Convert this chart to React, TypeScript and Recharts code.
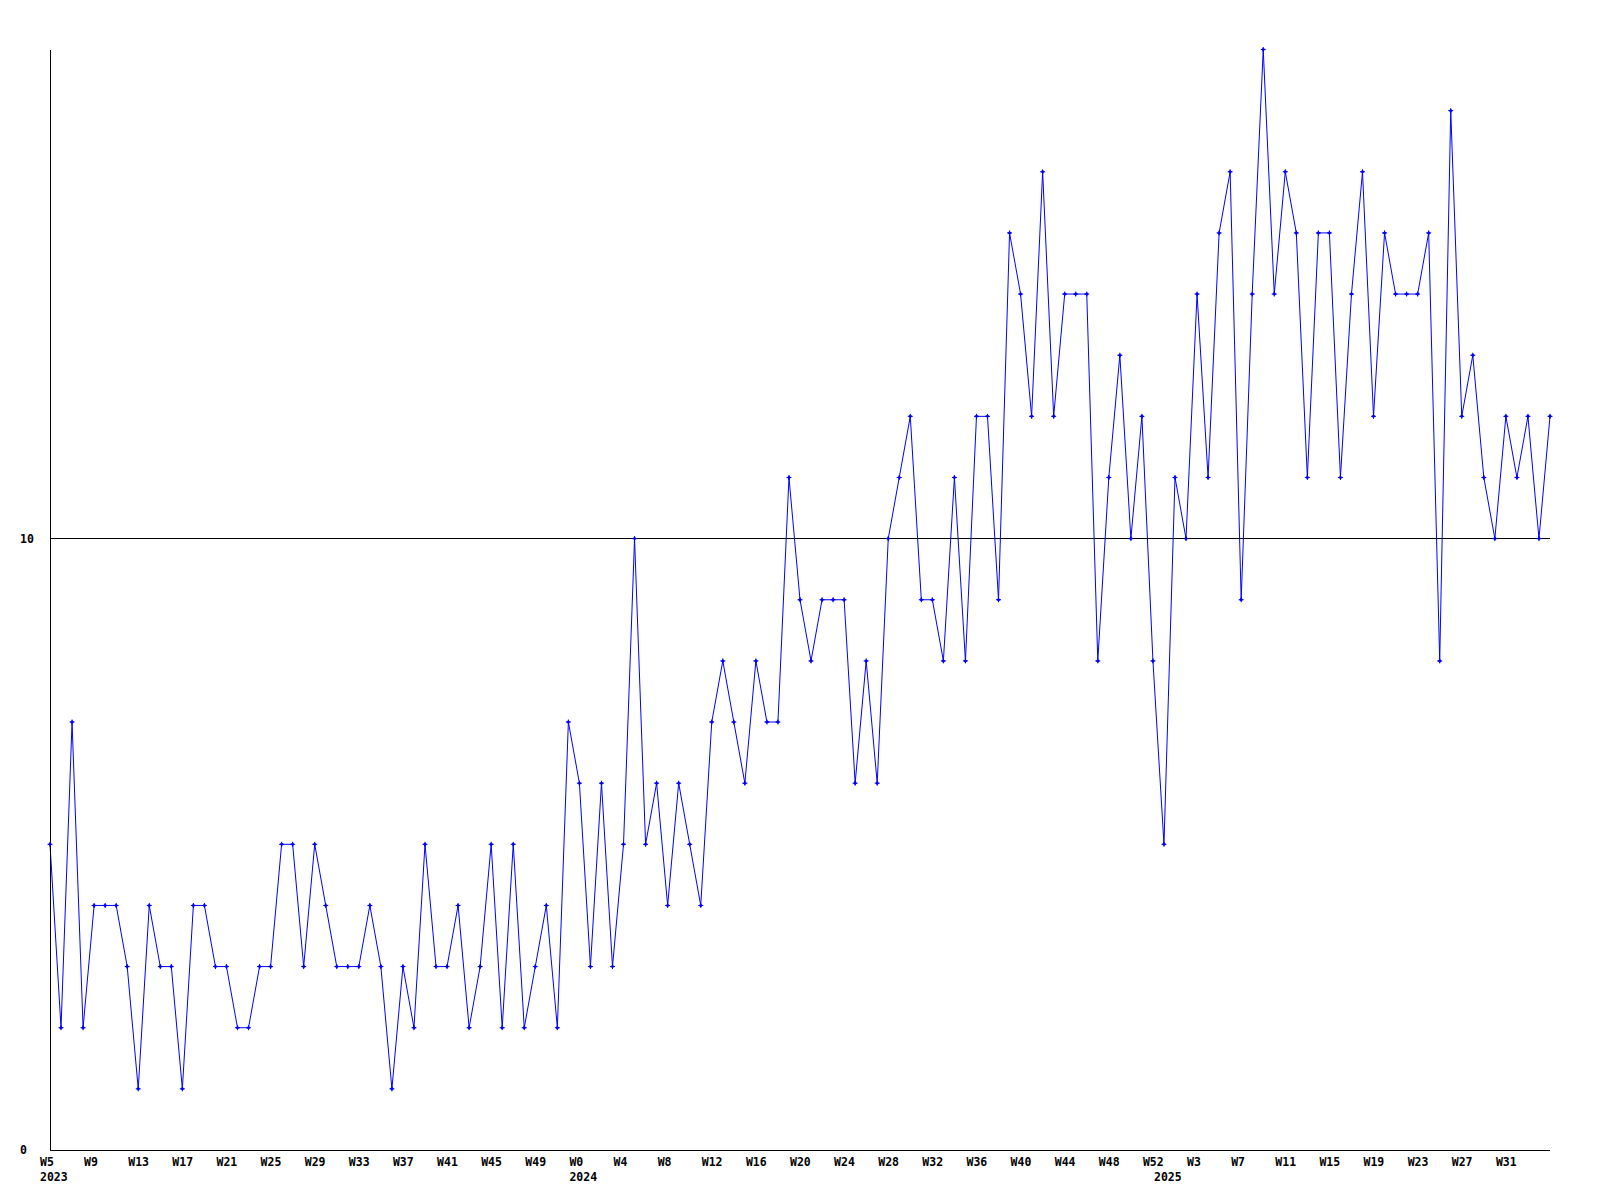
import React from "react";
import { LineChart, Line, XAxis, YAxis, ReferenceLine } from "recharts";

const weeks2023 = ["W5","W6","W7","W8","W9","W10","W11","W12","W13","W14","W15","W16","W17","W18","W19","W20","W21","W22","W23","W24","W25","W26","W27","W28","W29","W30","W31","W32","W33","W34","W35","W36","W37","W38","W39","W40","W41","W42","W43","W44","W45","W46","W47","W48","W49","W50","W51","W52"];
const weeks2024 = ["W0","W1","W2","W3","W4","W5","W6","W7","W8","W9","W10","W11","W12","W13","W14","W15","W16","W17","W18","W19","W20","W21","W22","W23","W24","W25","W26","W27","W28","W29","W30","W31","W32","W33","W34","W35","W36","W37","W38","W39","W40","W41","W42","W43","W44","W45","W46","W47","W48","W49","W50","W51","W52"];
const weeks2025 = ["W0","W1","W2","W3","W4","W5","W6","W7","W8","W9","W10","W11","W12","W13","W14","W15","W16","W17","W18","W19","W20","W21","W22","W23","W24","W25","W26","W27","W28","W29","W30","W31","W32","W33","W34","W35"];

const values2023 = [5,2,7,2,4,4,4,3,1,4, 3,3,1,4,4,3,3,2,2,3, 3,5,5,3,5,4,3,3,3,4, 3,1,3,2,5,3,3,4,2,3, 5,2,5,2,3,4,2,7];
const values2024 = [6,3, 6,3,5,10,5,6,4,6,5,4, 7,8,7,6,8,7,7,11,9,8, 9,9,9,6,8,6,10,11,12,9, 9,8,11,8,12,12,9,15,14,12, 16,12,14,14,14,8,11,13,10,12, 8];
const values2025 = [5,11,10,14,11,15,16,9,14, 18,14,16,15,11,15,15,11,14,16, 12,15,14,14,14,15,8,17,12,13, 11,10,12,11,12,10,12];

const yTicks = [0, 10];
const yDomain = [0, 18];

type Row = { key: string; year: string; week: string; value: number; first: boolean };

const build = (year: string, weeks: string[], vals: number[]): Row[] =>
  weeks.map((w, i) => ({ key: `${year} ${w}`, year, week: w, value: vals[i], first: i === 0 }));

const data: Row[] = [
  ...build("2023", weeks2023, values2023),
  ...build("2024", weeks2024, values2024),
  ...build("2025", weeks2025, values2025),
];

const FONT = "'DejaVu Sans Mono', monospace";

const XTick = (props: any) => {
  const { x, y, index } = props;
  const row = data[index];
  if (!row) return null;
  const showWeek = index % 4 === 0 && index < data.length - 1;
  return (
    <g>
      {showWeek && (
        <text x={x - 10} y={y + 16} textAnchor="start" fontFamily={FONT} fontWeight="bold" fontSize={11.5} fill="#000">
          {row.week}
        </text>
      )}
      {row.first && (
        <text x={x - 10} y={y + 31} textAnchor="start" fontFamily={FONT} fontWeight="bold" fontSize={11.5} fill="#000">
          {row.year}
        </text>
      )}
    </g>
  );
};

const YTick = (props: any) => {
  const { x, y, payload } = props;
  return (
    <text x={x - 30} y={y + 4} textAnchor="start" fontFamily={FONT} fontWeight="bold" fontSize={11.5} fill="#000">
      {payload.value}
    </text>
  );
};

const Marker = (props: any) => {
  const { cx, cy, index } = props;
  if (cx == null || cy == null) return <g key={index} />;
  return (
    <g key={index}>
      <path d={`M${cx - 2},${cy} L${cx},${cy - 2} L${cx + 2},${cy} L${cx},${cy + 2} Z`} fill="#0000ff" />
      <path d={`M${cx - 2.5},${cy} H${cx + 2.5} M${cx},${cy - 2.5} V${cy + 2.5}`} stroke="#0000ff" strokeWidth={1} />
    </g>
  );
};

export default function App() {
  return (
    <div style={{ position: "absolute", left: 0, top: 0, width: 1600, height: 1200, background: "#fff" }}>
      <LineChart width={1600} height={1200} data={data} margin={{ top: 49.5, right: 50, bottom: 0, left: 0 }}>
        <XAxis
          dataKey="key"
          interval={0}
          tick={<XTick />}
          tickLine={false}
          tickSize={0}
          tickMargin={0}
          height={50}
          axisLine={{ stroke: "#000", strokeWidth: 1, shapeRendering: "crispEdges" }}
        />
        <YAxis
          type="number"
          domain={yDomain}
          ticks={yTicks}
          width={50}
          tick={<YTick />}
          tickLine={false}
          tickSize={0}
          tickMargin={0}
          axisLine={{ stroke: "#000", strokeWidth: 1, shapeRendering: "crispEdges" }}
        />
        <ReferenceLine y={10} stroke="#000" strokeWidth={1} shapeRendering="crispEdges" />
        <Line
          type="linear"
          dataKey="value"
          stroke="#0000ff"
          strokeWidth={1}
          dot={<Marker />}
          activeDot={false}
          isAnimationActive={false}
        />
      </LineChart>
    </div>
  );
}
